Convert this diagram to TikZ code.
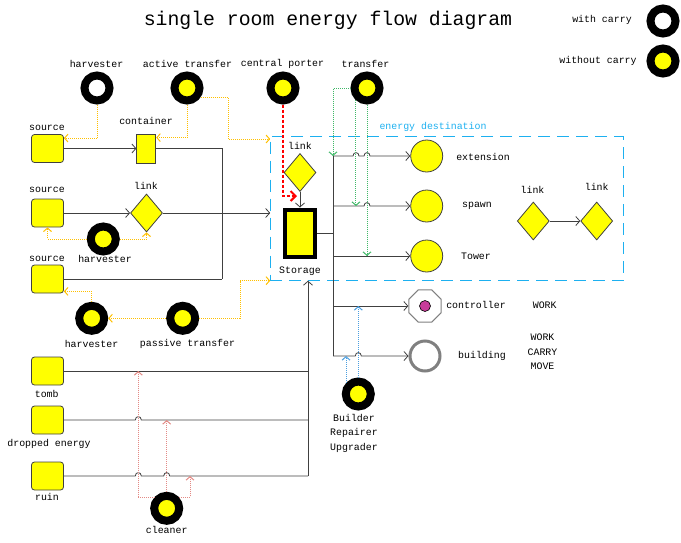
\documentclass[tikz,border=0pt]{standalone}
\usepackage{fontspec}
\setmainfont{Liberation Mono}
\usepackage{tikz}
\usetikzlibrary{shapes.geometric}
\usetikzlibrary{arrows.meta}
\definecolor{srcyellow}{HTML}{FFFF00}
\definecolor{wiregray}{HTML}{404040}
\definecolor{passorange}{HTML}{FFC000}
\definecolor{trgreen}{HTML}{40B868}
\definecolor{bdblue}{HTML}{4A9EE0}
\definecolor{clsalmon}{HTML}{E38A85}
\definecolor{destcyan}{HTML}{1DB0F0}
\definecolor{ctrlmag}{HTML}{C83C9A}
\newcommand\hop[2]{-- ({#1-3},#2) .. controls ({#1-3},{#2-4.5}) and ({#1+3},{#2-4.5}) .. ({#1+3},#2)}
\tikzset{
	carrier/.style={circle, draw=black, line width=8pt, fill=srcyellow, minimum size=25pt, inner sep=0pt},
	emptycarrier/.style={carrier, fill=white},
	srcbox/.style={rectangle, rounded corners=3pt, draw=wiregray, line width=0.8pt, fill=srcyellow, minimum width=32pt, minimum height=28pt, inner sep=0pt},
	contbox/.style={srcbox, sharp corners, minimum width=19pt, minimum height=29pt},
	linkdia/.style={diamond, draw=wiregray, line width=0.8pt, fill=srcyellow, minimum width=32pt, minimum height=38pt, inner sep=0pt},
	storbox/.style={rectangle, draw=black, line width=4pt, fill=srcyellow, minimum width=30pt, minimum height=47pt, inner sep=0pt},
	destcirc/.style={circle, draw=wiregray, line width=0.8pt, fill=srcyellow, minimum size=32pt, inner sep=0pt},
	ctrlpoly/.style={regular polygon, regular polygon sides=8, draw=gray, line width=1pt, fill=white, minimum size=35pt, inner sep=0pt},
	bldcirc/.style={circle, draw=gray, line width=3pt, fill=white, minimum size=30pt, inner sep=0pt},
	destbox/.style={rectangle, draw=destcyan, line width=1.2pt, dash pattern=on 12pt off 7pt, minimum width=353pt, minimum height=144pt, inner sep=0pt, outer sep=0pt},
	lbl/.style={inner sep=0pt, font=\fontsize{9.9}{14.3}\selectfont, align=center},
	wire/.style={draw=wiregray, line width=0.8pt},
	flow/.style={wire, -{Straight Barb[length=4pt,width=9pt]}},
	dotflow/.style={line width=1pt, dash pattern=on 1pt off 1pt, -{Straight Barb[length=3.5pt,width=8pt]}},
	orflow/.style={dotflow, draw=passorange},
	trflow/.style={dotflow, draw=trgreen},
	bdflow/.style={dotflow, draw=bdblue},
	clflow/.style={dotflow, draw=clsalmon},
	porter/.style={draw=red, line width=2pt, dash pattern=on 3pt off 2pt, -{Straight Barb[length=5pt,width=10pt]}}
}
\begin{document}
\begin{tikzpicture}[x=1pt,y=-1pt]
	\useasboundingbox (0,0) rectangle (681,542);

	\node[font=\fontsize{19.8}{24}\selectfont] (title) at (328,20) {single room energy flow diagram};
	\node[lbl] (lgW) at (602,20) {with carry};
	\node[emptycarrier] (carW) at (663,21) {};
	\node[lbl] (lgWO) at (598,61) {without carry};
	\node[carrier] (carWO) at (663,61) {};

	\node[destbox] (dest) at (446.7,208.7) {};
	\node[lbl, text=destcyan] (destlbl) at (433,127) {energy destination};

	\node[emptycarrier] (hvTop) at (97,88) {};
	\node[lbl] (hvToplbl) at (96.5,64) {harvester};
	\node[carrier] (atTop) at (187,88) {};
	\node[lbl] (atToplbl) at (187.5,64) {active transfer};
	\node[carrier] (cpTop) at (283,88) {};
	\node[lbl] (cpToplbl) at (282.5,64) {central porter};
	\node[carrier] (trTop) at (367,88) {};
	\node[lbl] (trToplbl) at (365.5,64) {transfer};

	\node[srcbox] (src1) at (47.5,148.5) {};
	\node[lbl] (src1lbl) at (47,128) {source};
	\node[contbox] (cont) at (146.3,148.5) {};
	\node[lbl] (contlbl) at (146,121) {container};
	\node[srcbox] (src2) at (47.5,213) {};
	\node[lbl] (src2lbl) at (47,190) {source};
	\node[linkdia] (lnkA) at (146.5,213) {};
	\node[lbl] (lnkAlbl) at (146,186) {link};
	\node[carrier] (hvMid) at (103.3,239) {};
	\node[lbl] (hvMidlbl) at (105,258.5) {harvester};
	\node[srcbox] (src3) at (47.5,279) {};
	\node[lbl] (src3lbl) at (47,258.5) {source};

	\node[linkdia] (lnkS) at (300,172.5) {};
	\node[lbl] (lnkSlbl) at (300,146) {link};
	\node[storbox] (stor) at (300,233) {};
	\node[lbl] (storlbl) at (300,271.5) {Storage};

	\node[destcirc] (ext) at (426.7,156) {};
	\node[lbl] (extlbl) at (483,157) {extension};
	\node[destcirc] (spn) at (426.7,206) {};
	\node[lbl] (spnlbl) at (477,206) {spawn};
	\node[destcirc] (twr) at (426.7,256) {};
	\node[lbl] (twrlbl) at (476,256) {Tower};
	\node[linkdia] (lnkB) at (533.3,221) {};
	\node[lbl] (lnkBlbl) at (532.5,190) {link};
	\node[linkdia] (lnkC) at (596.7,221) {};
	\node[lbl] (lnkClbl) at (596.7,187) {link};

	\node[ctrlpoly] (ctrl) at (425,306) {};
	\node[circle, draw=black, line width=0.6pt, fill=ctrlmag, minimum size=11pt, inner sep=0pt] (ctrlDot) at (ctrl) {};
	\node[lbl] (ctrllbl) at (476,305) {controller};
	\node[lbl] (ctrlpart) at (544.7,305) {WORK};
	\node[bldcirc] (bld) at (425,356) {};
	\node[lbl] (bldlbl) at (482,355.5) {building};
	\node[lbl] (bldpart) at (542.5,352) {WORK\\CARRY\\MOVE};
	\node[carrier] (bldr) at (358.3,394) {};
	\node[lbl] (bldrlbl) at (354,433.3) {Builder\\Repairer\\Upgrader};

	\node[carrier] (hvLow) at (91.7,318.3) {};
	\node[lbl] (hvLowlbl) at (91.5,343.5) {harvester};
	\node[carrier] (ptLow) at (182.7,318.3) {};
	\node[lbl] (ptLowlbl) at (187.5,343.5) {passive transfer};

	\node[srcbox] (tomb) at (47.5,371) {};
	\node[lbl] (tomblbl) at (46.7,394.3) {tomb};
	\node[srcbox] (drop) at (47.5,420) {};
	\node[lbl] (droplbl) at (49,444.3) {dropped energy};
	\node[srcbox] (ruin) at (47.5,476) {};
	\node[lbl] (ruinlbl) at (47,497.3) {ruin};
	\node[carrier] (clnr) at (166.7,508.3) {};
	\node[lbl] (clnrlbl) at (166.7,530) {cleaner};

	\coordinate (jBot) at (222,279);
	\coordinate (atBend) at (228,139);
	\coordinate (cpEnd) at (297,196);
	\coordinate (busTop) at (333,156);
	\coordinate (ptBend) at (240,280.7);
	\coordinate (stIn) at (308,280.7);
	\coordinate (clA) at (138.3,371);
	\coordinate (clC) at (190,476);

	\draw[flow] (src1) -- (cont);
	\draw[flow] (src2) -- (lnkA);
	\draw[wire] (cont.east) -| (jBot);
	\draw[wire] (src3) -- (jBot);
	\draw[flow] (lnkA) -- (dest.west |- lnkA);
	\draw[flow] (lnkS) -- (stor);
	\draw[wire] (stor.east) -- (stor.east -| busTop);
	\draw[wire] (busTop) -- (busTop |- bld);
	\draw[flow] (busTop) \hop{356}{156} \hop{367}{156} -- (ext);
	\draw[flow] (busTop |- spn) \hop{367}{206} -- (spn);
	\draw[flow] (busTop |- twr) -- (twr);
	\draw[flow] (busTop |- ctrl) -- (ctrl);
	\draw[flow] (busTop |- bld) \hop{358.3}{356} -- (bld);
	\draw[flow] (lnkB) -- (lnkC);

	\draw[wire] (tomb) -- (tomb -| stIn);
	\draw[wire] (drop) \hop{138.3}{420} -- (drop -| stIn);
	\draw[wire] (ruin) \hop{138.3}{476} \hop{166.7}{476} -- (ruin -| stIn);
	\draw[flow] (ruin -| stIn) -- (stIn);

	\draw[orflow] (hvTop.south) |- ([yshift=-4pt]src1.north east);
	\draw[orflow] (atTop.south) |- ([yshift=-4pt]cont.north east);
	\draw[orflow] (atTop.-35) -| (atBend) -- (dest.west |- atBend);
	\draw[orflow] (hvMid.west) -| (src2.south);
	\draw[orflow] (hvMid.east) -| (lnkA.south);
	\draw[orflow] (hvLow.north) |- ([yshift=2pt]src3.south east);
	\draw[orflow] (ptLow) -- (hvLow);
	\draw[orflow] (ptLow.east) -| (ptBend) -- (dest.south west);

	\draw[porter] (cpTop) |- (cpEnd);

	\draw[trflow] (trTop.west) -| (busTop);
	\draw[trflow] (trTop.-132) -- (trTop.-132 |- spn);
	\draw[trflow] (trTop.south) -- (trTop.south |- twr);

	\draw[bdflow] (bldr.138) -- (bldr.138 |- bld);
	\draw[bdflow] (bldr.north) -- (bldr.north |- ctrl);

	\draw[clflow] (clnr.137) -| (clA);
	\draw[clflow] (clnr.north) -- (clnr.north |- drop);
	\draw[clflow] (clnr.43) -| (clC);
\end{tikzpicture}
\end{document}
